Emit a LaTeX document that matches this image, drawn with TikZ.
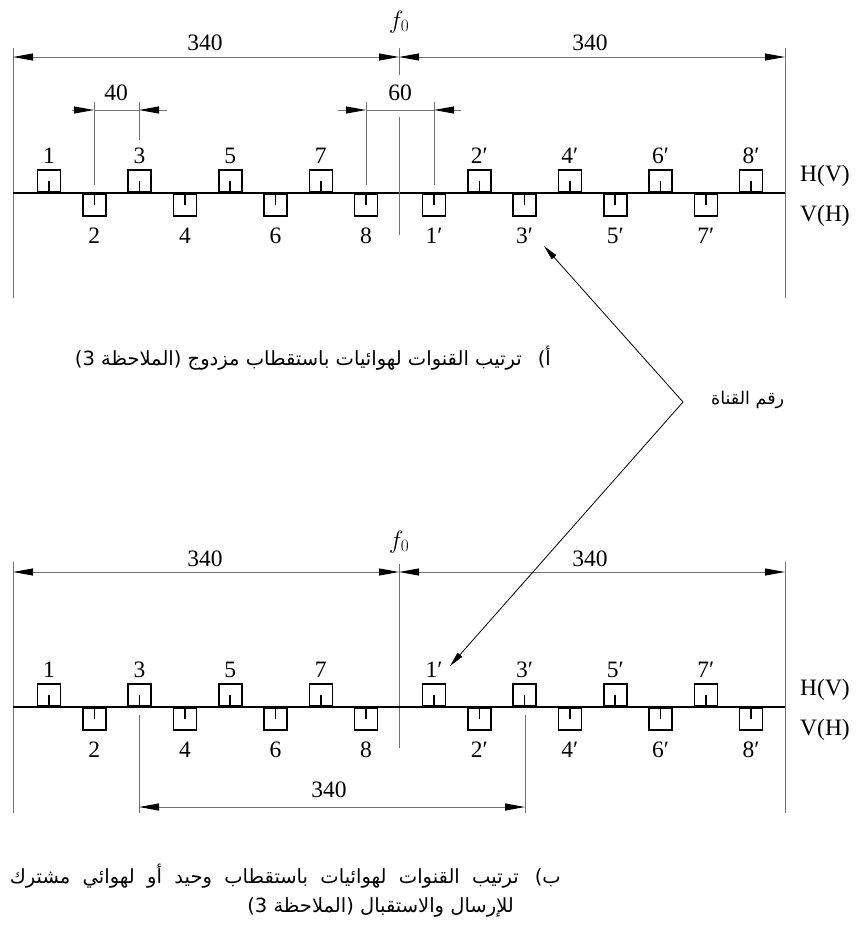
\documentclass[tikz,border=0pt]{standalone}
\usepackage{fontspec}
\setmainfont{Liberation Serif}
\newfontfamily\arabicfont[Script=Arabic]{DejaVu Sans}
\TeXXeTstate=1
\usetikzlibrary{arrows.meta}

\begin{document}
\begin{tikzpicture}[
		x=1pt, y=-1pt,
		font=\fontsize{23.5}{26}\selectfont,
		chup/.style = {draw, line width=1.6pt, minimum width=23pt, minimum height=22pt, inner sep=0pt, anchor=south},
		chdown/.style = {chup, anchor=north},
		chtick/.style = {line width=1.6pt},
		dim/.style = {draw=black!55, line width=0.9pt},
		dimtip/.style = {dim, -{Triangle[length=20pt, width=7pt, black]}},
		dimtips/.style = {dim, {Triangle[length=20pt, width=7pt, black]}-{Triangle[length=20pt, width=7pt, black]}},
		lead/.style = {line width=0.8pt, -{Triangle[length=15pt, width=6pt]}},
		lab/.style = {anchor=base, inner sep=0pt},
		fnode/.style = {font=\fontsize{25}{28}\selectfont},
		captext/.style = {anchor=east, inner sep=0pt, font=\fontsize{19.5}{23}\arabicfont}
	]
	\useasboundingbox (0,0) rectangle (856,927);

	% a) dual polarisation
	\begin{scope}
		\coordinate (aL) at (13,48);   \coordinate (aLb) at (13,298);
		\coordinate (aR) at (785,48);  \coordinate (aRb) at (785,298);
		\coordinate (aF) at (399,48);  \coordinate (aFb) at (399,75);
		\coordinate (adL) at (13,57);  \coordinate (adF) at (399,57);  \coordinate (adR) at (785,57);
		\draw[dim] (aL) -- (aLb);
		\draw[dim] (aR) -- (aRb);
		\draw[dim] (aF) -- (aFb);
		\draw[dimtips] (adL) -- (adF);
		\draw[dimtips] (adF) -- (adR);
		\node[fnode] (af0) at (399,22) {$f_0$};
		\node (a340l) at (205,43) {340};
		\node (a340r) at (590,43) {340};
		\draw[line width=1.6pt] (13,193) coordinate (aax0) -- (785,193) coordinate (aax1);
		\foreach \k in {1,...,8} {
			\pgfmathsetmacro\xa{49+45.3*(\k-1)}
			\pgfmathsetmacro\xb{434+45.3*(\k-1)}
			\ifodd\k
				\node[chup] (ta\k) at (\xa,193) {};
				\node[lab] (lta\k) at (\xa,163) {\k};
				\node[chdown] (tb\k) at (\xb,193) {};
				\node[lab] (ltb\k) at (\xb,243) {\k′};
			\else
				\node[chdown] (ta\k) at (\xa,193) {};
				\node[lab] (lta\k) at (\xa,243) {\k};
				\node[chup] (tb\k) at (\xb,193) {};
				\node[lab] (ltb\k) at (\xb,163) {\k′};
			\fi
			\draw[chtick] (ta\k.center) -- (ta\k.center |- aax0);
			\draw[chtick] (tb\k.center) -- (tb\k.center |- aax0);
		}
		\node[lab] (aHV) at (825,181) {H(V)};
		\node[lab] (aVH) at (825,221) {V(H)};
		% 40 and 60
		\coordinate (e2) at (94,110);  \coordinate (e2b) at (94,185);  \coordinate (e2t) at (94,102);
		\coordinate (e3) at (139,110); \coordinate (e3b) at (139,140); \coordinate (e3t) at (139,102);
		\coordinate (e8) at (366,110); \coordinate (e8b) at (366,185); \coordinate (e8t) at (366,102);
		\coordinate (e1p) at (434,110); \coordinate (e1pb) at (434,185); \coordinate (e1pt) at (434,102);
		\draw[dim] (e2t) -- (e2b);
		\draw[dim] (e3t) -- (e3b);
		\draw[dim] (e8t) -- (e8b);
		\draw[dim] (e1pt) -- (e1pb);
		\draw[dim] (399,117) coordinate (acen) -- (399,235) coordinate (acenb);
		\draw[dimtip] (72,110) coordinate (d40l) -- (e2);
		\draw[dimtip] (167,110) coordinate (d40r) -- (e3);
		\draw[dim] (e2) -- (e3);
		\draw[dimtip] (338,110) coordinate (d60l) -- (e8);
		\draw[dimtip] (461,110) coordinate (d60r) -- (e1p);
		\draw[dim] (e8) -- (e1p);
		\node (a40) at (116,93) {40};
		\node (a60) at (400,93) {60};
	\end{scope}

	% b) single polarisation
	\begin{scope}[yshift=-514pt]
		\coordinate (bL) at (13,48);   \coordinate (bLb) at (13,299);
		\coordinate (bR) at (785,48);  \coordinate (bRb) at (785,299);
		\coordinate (bF) at (399,50);  \coordinate (bFb) at (399,234);
		\coordinate (bdL) at (13,58);  \coordinate (bdF) at (399,58);  \coordinate (bdR) at (785,58);
		\draw[dim] (bL) -- (bLb);
		\draw[dim] (bR) -- (bRb);
		\draw[dim] (bF) -- (bFb);
		\draw[dimtips] (bdL) -- (bdF);
		\draw[dimtips] (bdF) -- (bdR);
		\node[fnode] (bf0) at (399,28) {$f_0$};
		\node (b340l) at (205,45) {340};
		\node (b340r) at (590,45) {340};
		\draw[line width=1.6pt] (13,193) coordinate (bax0) -- (785,193) coordinate (bax1);
		\foreach \k in {1,...,8} {
			\pgfmathsetmacro\xa{49+45.3*(\k-1)}
			\pgfmathsetmacro\xb{434+45.3*(\k-1)}
			\ifodd\k
				\node[chup] (ba\k) at (\xa,193) {};
				\node[lab] (lba\k) at (\xa,163) {\k};
				\node[chup] (bb\k) at (\xb,193) {};
				\node[lab] (lbb\k) at (\xb,163) {\k′};
			\else
				\node[chdown] (ba\k) at (\xa,193) {};
				\node[lab] (lba\k) at (\xa,243) {\k};
				\node[chdown] (bb\k) at (\xb,193) {};
				\node[lab] (lbb\k) at (\xb,243) {\k′};
			\fi
			\draw[chtick] (ba\k.center) -- (ba\k.center |- bax0);
			\draw[chtick] (bb\k.center) -- (bb\k.center |- bax0);
		}
		\node[lab] (bHV) at (825,181) {H(V)};
		\node[lab] (bVH) at (825,221) {V(H)};
		% 340 between 3 and 3'
		\coordinate (g3t) at (139,201);  \coordinate (g3b) at (139,299);  \coordinate (g3) at (139,293);
		\coordinate (g3pt) at (525,201); \coordinate (g3pb) at (525,299); \coordinate (g3p) at (525,293);
		\draw[dim] (g3t) -- (g3b);
		\draw[dim] (g3pt) -- (g3pb);
		\draw[dimtips] (g3) -- (g3p);
		\node (b340) at (329,276) {340};
	\end{scope}

	% channel number leader
	\coordinate (vtx) at (683,402);
	\coordinate (tipa) at (544,246);
	\coordinate (tipb) at (450,666);
	\draw[lead] (vtx) -- (tipa);
	\draw[lead] (vtx) -- (tipb);
	\node[anchor=west, inner sep=0pt, font=\fontsize{17.5}{20}\arabicfont] (chno) at (711,400) {\beginR رقم القناة\endR};

	% captions
	\node[captext] (capa) at (551,358) {\beginR أ)\hspace{16pt}ترتيب القنوات لهوائيات باستقطاب مزدوج (الملاحظة 3)\endR};
	\node[captext] (capb1) at (561,876) {\makebox[551pt][s]{\beginR ب)\hspace{16pt}ترتيب القنوات لهوائيات باستقطاب وحيد أو لهوائي مشترك\endR}};
	\node[captext] (capb2) at (514,907) {\beginR للإرسال والاستقبال (الملاحظة 3)\endR};
\end{tikzpicture}
\end{document}
